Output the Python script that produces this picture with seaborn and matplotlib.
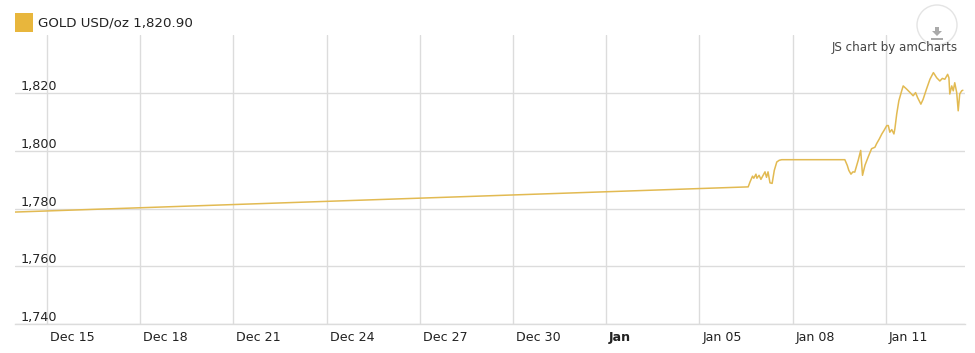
import matplotlib
matplotlib.use("Agg")
import matplotlib.pyplot as plt
import matplotlib.transforms as mtransforms
from matplotlib.patches import Rectangle, Ellipse, Polygon
import seaborn as sns
import pandas as pd

# ---------------- data ----------------
times = [
    "2021-12-13 23:15", "2022-01-06 13:40", "2022-01-06 15:05", "2022-01-06 17:00",
    "2022-01-06 18:00", "2022-01-06 19:40", "2022-01-06 20:25", "2022-01-06 22:05",
    "2022-01-06 23:30", "2022-01-07 02:40", "2022-01-07 03:50", "2022-01-07 05:00",
    "2022-01-07 06:30", "2022-01-07 08:10", "2022-01-07 09:50", "2022-01-07 11:45",
    "2022-01-07 13:40", "2022-01-07 15:35", "2022-01-09 16:20", "2022-01-09 18:15",
    "2022-01-09 19:25", "2022-01-09 21:05", "2022-01-09 22:35", "2022-01-10 00:00",
    "2022-01-10 02:40", "2022-01-10 04:35", "2022-01-10 06:00", "2022-01-10 07:55",
    "2022-01-10 10:20", "2022-01-10 13:00", "2022-01-10 15:35", "2022-01-10 16:50",
    "2022-01-10 19:00", "2022-01-10 20:55", "2022-01-10 22:35", "2022-01-11 00:45",
    "2022-01-11 01:55", "2022-01-11 03:05", "2022-01-11 04:35", "2022-01-11 06:15",
    "2022-01-11 07:00", "2022-01-11 08:25", "2022-01-11 10:05", "2022-01-11 12:15",
    "2022-01-11 13:25", "2022-01-11 16:05", "2022-01-11 18:45", "2022-01-11 21:05",
    "2022-01-11 23:00", "2022-01-12 00:30", "2022-01-12 03:05", "2022-01-12 04:50",
    "2022-01-12 07:25", "2022-01-12 10:05", "2022-01-12 12:45", "2022-01-12 15:20",
    "2022-01-12 17:45", "2022-01-12 19:40", "2022-01-12 21:35", "2022-01-12 23:45",
    "2022-01-13 00:45", "2022-01-13 01:25", "2022-01-13 02:55", "2022-01-13 04:05",
    "2022-01-13 05:15", "2022-01-13 06:45", "2022-01-13 07:55", "2022-01-13 09:05",
    "2022-01-13 10:35", "2022-01-13 11:30",
]
prices = [
    1778.8, 1787.5, 1789.2, 1791.2,
    1790.5, 1791.9, 1790.5, 1791.5,
    1790.1, 1792.7, 1790.8, 1792.7,
    1788.9, 1788.7, 1793.2, 1796.1,
    1796.7, 1796.9, 1796.9, 1794.9,
    1793.2, 1791.9, 1792.7, 1792.6,
    1796.7, 1800.1, 1791.5, 1795.0,
    1797.8, 1800.7, 1801.2, 1802.4,
    1804.1, 1805.8, 1807.0, 1808.7,
    1808.7, 1806.4, 1807.3, 1805.8,
    1807.6, 1812.7, 1817.3, 1820.7,
    1822.4, 1821.3, 1820.1, 1819.0,
    1820.1, 1818.4, 1816.1, 1817.8,
    1821.3, 1824.7, 1827.0, 1825.2,
    1824.1, 1825.0, 1824.7, 1826.4,
    1825.2, 1819.6, 1822.4, 1820.7,
    1823.5, 1820.1, 1813.8, 1819.6,
    1820.7, 1820.9,
]
x_tick_dates = ["2021-12-15", "2021-12-18", "2021-12-21", "2021-12-24", "2021-12-27",
                "2021-12-30", "2022-01-02", "2022-01-05", "2022-01-08", "2022-01-11"]
x_tick_labels = ["Dec 15", "Dec 18", "Dec 21", "Dec 24", "Dec 27",
                 "Dec 30", "Jan", "Jan 05", "Jan 08", "Jan 11"]
y_ticks = [1740, 1760, 1780, 1800, 1820]
y_tick_labels = ["1,740", "1,760", "1,780", "1,800", "1,820"]
legend_label = "GOLD USD/oz 1,820.90"
x_range = ["2021-12-13 23:15", "2022-01-13 13:10"]
y_range = [1740, 1840]

# ---------------- style ----------------
sns.set_style("white")
plt.rcParams["font.family"] = ["DejaVu Sans"]

W, H = 975, 353
fig = plt.figure(figsize=(W / 100, H / 100), dpi=100)
fig.patch.set_facecolor("white")

def px(x0, y0, x1, y1):
    return [x0 / W, 1 - y1 / H, (x1 - x0) / W, (y1 - y0) / H]

ax = fig.add_axes(px(15, 35, 965, 324.3))
ax.set_facecolor("white")

df = pd.DataFrame({"time": pd.to_datetime(times), "price": prices})
line_color = "#e2ba52"
sns.lineplot(data=df, x="time", y="price", ax=ax, color=line_color,
             linewidth=1.1, zorder=3)

ax.set_xlim(pd.to_datetime(x_range[0]), pd.to_datetime(x_range[1]))
ax.set_ylim(*y_range)
ax.set_xlabel("")
ax.set_ylabel("")

grid_color = "#dcdcdc"
for name, s in ax.spines.items():
    if name == "bottom":
        s.set_visible(True)
        s.set_color(grid_color)
        s.set_linewidth(1.0)
    else:
        s.set_visible(False)

ax.set_xticks(pd.to_datetime(x_tick_dates))
ax.set_xticklabels(x_tick_labels)
ax.set_yticks(y_ticks)
ax.set_yticklabels(y_tick_labels)
ax.grid(True, color=grid_color, linewidth=1.0, zorder=0)

ax.tick_params(axis="x", length=0, pad=5, labelsize=9.1, labelcolor="#222222")
ax.tick_params(axis="y", length=0, pad=-4, labelsize=9.2, labelcolor="#222222")

offset = mtransforms.ScaledTranslation(3 / 100, 0, fig.dpi_scale_trans)
for lab in ax.get_xticklabels():
    lab.set_horizontalalignment("left")
    lab.set_transform(lab.get_transform() + offset)
    if lab.get_text() == "Jan":
        lab.set_fontweight("bold")
for lab in ax.get_yticklabels():
    lab.set_horizontalalignment("left")
    lab.set_verticalalignment("bottom")

# legend
fig.add_artist(Rectangle((15 / W, 1 - 31.5 / H), 18 / W, 18 / H,
                         transform=fig.transFigure, facecolor="#e8b63c",
                         edgecolor="none"))
fig.text(38 / W, 1 - 23 / H, legend_label, fontsize=9.6, color="#222222",
         ha="left", va="center")

# watermark + button
fig.text(958 / W, 1 - 48 / H, "JS chart by amCharts", fontsize=8.6,
         color="#444444", ha="right", va="center")
fig.add_artist(Ellipse((937 / W, 1 - 25 / H), 40 / W, 40 / H,
                       transform=fig.transFigure, facecolor=(1, 1, 1, 0.55),
                       edgecolor="#e4e4e4", linewidth=1.0))
arrow_pts = [(935, 27), (935, 31), (932, 31), (937, 36), (942, 31), (939, 31), (939, 27)]
fig.add_artist(Polygon([(x / W, 1 - y / H) for x, y in arrow_pts], closed=True,
                       transform=fig.transFigure, facecolor="#aaaaaa",
                       edgecolor="none"))
fig.add_artist(Rectangle((931 / W, 1 - 39.5 / H), 12 / W, 1.5 / H,
                         transform=fig.transFigure, facecolor="#aaaaaa",
                         edgecolor="none"))

fig.savefig("out.png", dpi=100)
